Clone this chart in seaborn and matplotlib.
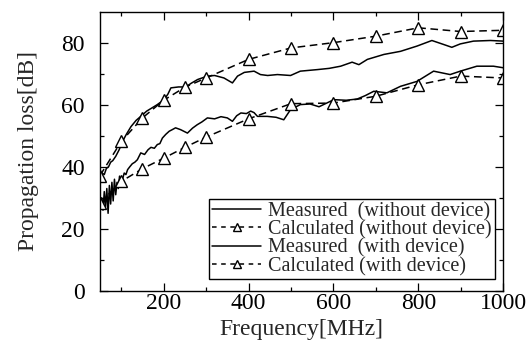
import matplotlib
matplotlib.use("Agg")
import matplotlib.pyplot as plt
import seaborn as sns
from matplotlib.lines import Line2D

# ---- data ----
freq_calc = [50, 100, 150, 200, 250, 300, 400, 500, 600, 700, 800, 900, 1000]
calc_without = [37.2, 48.2, 55.8, 61.5, 65.7, 68.7, 74.7, 78.4, 80.1, 82.2, 84.9, 83.7, 84.1]
calc_with = [28.3, 35.3, 39.4, 42.8, 46.3, 49.6, 55.5, 60.4, 60.6, 62.8, 66.5, 69.3, 68.7]

freq_meas_without = [50, 55, 60, 65, 70, 75, 80, 87, 95, 103, 112, 123, 135, 146, 160,
                     172, 185, 201, 210, 217, 235, 252, 265, 280, 303, 320, 342, 362,
                     374, 390, 413, 428, 445, 468, 499, 522, 562, 590, 617, 644, 660,
                     680, 719, 758, 797, 832, 860, 879, 899, 930, 970, 1000]
meas_without = [36.9, 38.0, 37.5, 39.5, 40.0, 41.5, 42.0, 43.4, 45.5, 48.2, 50.5, 53.0,
                55.0, 56.3, 58.0, 59.0, 60.1, 61.7, 63.5, 65.5, 65.8, 65.8, 67.0, 68.2,
                69.3, 69.5, 68.7, 67.1, 69.3, 70.5, 70.9, 69.8, 69.5, 69.8, 69.5, 70.9,
                71.4, 71.8, 72.5, 73.8, 73.0, 74.7, 76.3, 77.3, 79.0, 80.8, 79.5, 78.6,
                79.7, 80.6, 80.8, 80.6]

freq_meas_with = [50, 54, 57, 60, 63, 66, 69, 72, 75, 78, 81, 84, 87, 90, 93, 96, 99,
                  103, 107, 111, 115, 120, 126, 132, 138, 146, 155, 163, 170, 178, 185,
                  191, 197, 205, 213, 220, 228, 240, 256, 268, 279, 290, 303, 320, 335,
                  350, 362, 372, 382, 395, 405, 413, 421, 444, 465, 483, 499, 522, 545,
                  566, 601, 630, 656, 675, 695, 726, 758, 797, 836, 875, 899, 938, 977, 1000]
meas_with = [28.3, 30.0, 26.0, 32.0, 27.0, 33.0, 25.0, 34.0, 28.0, 35.0, 29.0, 36.0,
             31.0, 35.0, 33.0, 37.0, 35.3, 36.0, 38.0, 37.5, 39.1, 40.0, 41.0, 41.5,
             42.3, 44.5, 44.0, 45.5, 46.3, 46.0, 47.2, 47.5, 49.3, 50.5, 51.5, 52.0,
             52.6, 52.0, 50.9, 52.5, 53.6, 54.5, 55.8, 55.5, 56.2, 55.8, 54.7, 56.5,
             57.4, 57.2, 58.0, 57.5, 56.3, 56.3, 56.0, 55.2, 58.5, 60.1, 60.3, 59.4,
             61.7, 61.5, 61.9, 63.0, 64.4, 63.9, 66.0, 67.6, 70.9, 69.8, 70.9, 72.5,
             72.5, 72.0]

labels = ["Measured  (without device)", "Calculated (without device)",
          "Measured  (with device)", "Calculated (with device)"]
x_ticks = [200, 400, 600, 800, 1000]
y_ticks = [0, 20, 40, 60, 80]

# ---- style ----
sns.set_style("ticks")
plt.rcParams["font.family"] = ["Liberation Serif", "DejaVu Serif"]

fig = plt.figure(figsize=(5.27, 3.47), dpi=100)
ax = fig.add_axes([0.1898, 0.1622, 0.765, 0.8032])

lw = 1.1
dash = (5, 3)
mk = dict(marker="^", markersize=8, markerfacecolor="white",
          markeredgecolor="black", markeredgewidth=1.0)

sns.lineplot(x=freq_meas_without, y=meas_without, ax=ax, color="black", lw=lw, sort=False)
sns.lineplot(x=freq_meas_with, y=meas_with, ax=ax, color="black", lw=lw, sort=False)
sns.lineplot(x=freq_calc, y=calc_without, ax=ax, color="black", lw=lw, **mk)
ax.lines[-1].set_dashes(dash)
sns.lineplot(x=freq_calc, y=calc_with, ax=ax, color="black", lw=lw, **mk)
ax.lines[-1].set_dashes(dash)

ax.set_xlim(50, 1000)
ax.set_ylim(0, 90)
ax.set_xticks(x_ticks)
ax.set_xticks([100, 300, 500, 700, 900], minor=True)
ax.set_yticks(y_ticks)
ax.set_yticks([10, 30, 50, 70], minor=True)
ax.set_xticklabels([str(v) for v in x_ticks])
ax.set_yticklabels([str(v) for v in y_ticks])

ax.tick_params(which="both", direction="in", top=True, right=True, width=0.9, colors="black")
ax.tick_params(which="major", length=6)
ax.tick_params(which="minor", length=3)
ax.tick_params(axis="x", which="major", labelsize=17, pad=2)
ax.tick_params(axis="y", which="major", labelsize=17, pad=11)
for s in ax.spines.values():
    s.set_linewidth(1.0)
    s.set_color("black")

ax.set_xlabel("Frequency[MHz]", fontsize=17, labelpad=3)
ax.set_ylabel("Propagation loss[dB]", fontsize=17, labelpad=16)

handles = [
    Line2D([], [], color="black", lw=lw),
    Line2D([], [], color="black", lw=lw, dashes=(3, 3), marker="^", markersize=6,
           markerfacecolor="white", markeredgecolor="black", markeredgewidth=1.0),
    Line2D([], [], color="black", lw=lw),
    Line2D([], [], color="black", lw=lw, dashes=(3, 3), marker="^", markersize=6,
           markerfacecolor="white", markeredgecolor="black", markeredgewidth=1.0),
]
leg = ax.legend(handles, labels, loc="lower right", fontsize=14.5, frameon=True,
                fancybox=False, edgecolor="black", framealpha=1, borderpad=0.15,
                labelspacing=-0.05, handlelength=2.45, handletextpad=0.35,
                borderaxespad=0, bbox_to_anchor=(0.98, 0.042))
leg.get_frame().set_linewidth(1.0)

fig.savefig("out.png", dpi=100)
